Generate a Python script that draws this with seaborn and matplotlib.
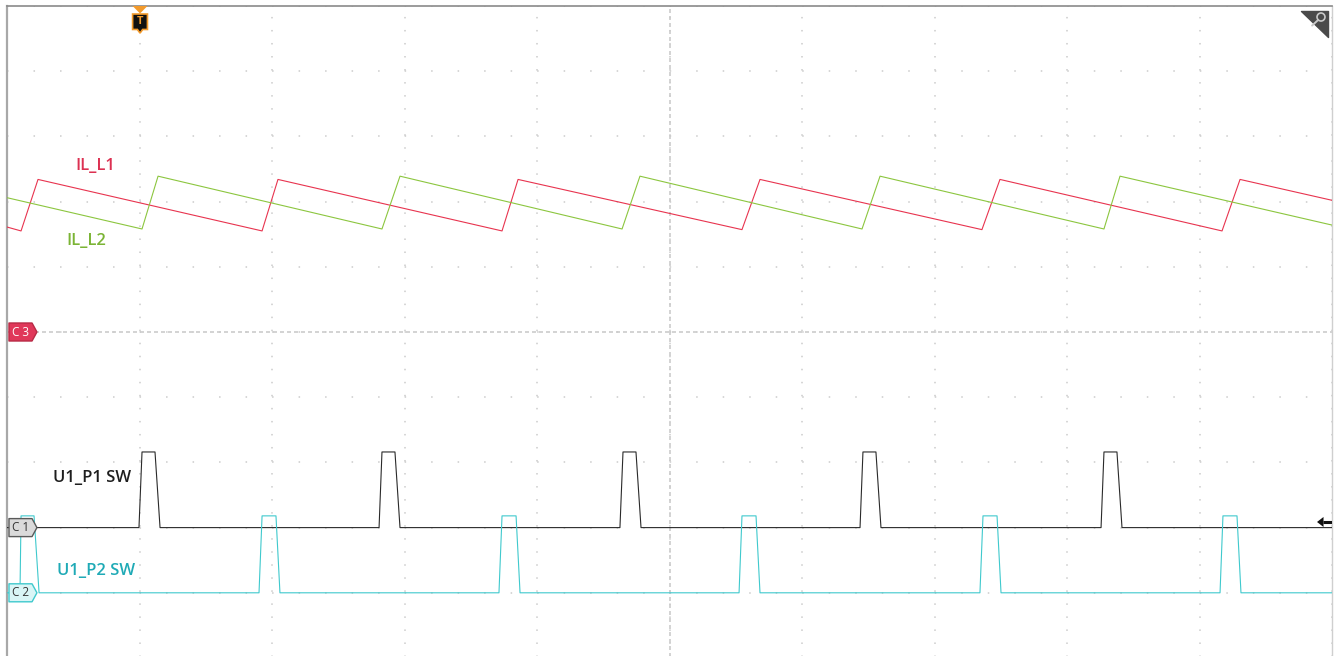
import matplotlib
matplotlib.use("Agg")
import matplotlib.pyplot as plt
import pandas as pd
import seaborn as sns
from matplotlib.patches import Polygon, Ellipse

# screen units: 10 horizontal divisions, vertical divisions -5..5 (centre = 0)
il_l1_t = [0.000, 0.106, 0.234, 1.925, 2.045, 3.736, 3.857, 5.547, 5.683,
           7.358, 7.494, 9.170, 9.306, 10.000]
il_l1_v = [1.61, 1.55, 2.34, 1.55, 2.34, 1.55, 2.34, 1.57, 2.34,
           1.57, 2.34, 1.55, 2.34, 2.02]

il_l2_t = [0.000, 1.019, 1.140, 2.830, 2.966, 4.642, 4.777, 6.453, 6.589,
           8.279, 8.400, 10.000]
il_l2_v = [2.06, 1.58, 2.39, 1.58, 2.39, 1.58, 2.39, 1.58, 2.39,
           1.58, 2.39, 1.64]

sw1_t = [0.000, 0.996, 1.019, 1.117, 1.155, 2.808, 2.830, 2.928, 2.966,
         4.626, 4.649, 4.747, 4.785, 6.438, 6.460, 6.558, 6.596,
         8.257, 8.279, 8.377, 8.415, 10.000]
sw1_v = [-3.00, -3.00, -1.84, -1.84, -3.00, -3.00, -1.84, -1.84, -3.00,
         -3.00, -1.84, -1.84, -3.00, -3.00, -1.84, -1.84, -3.00,
         -3.00, -1.84, -1.84, -3.00, -3.00]

sw2_t = [0.000, 0.098, 0.106, 0.204, 0.242, 1.902, 1.925, 2.030, 2.060,
         3.713, 3.736, 3.842, 3.872, 5.525, 5.547, 5.653, 5.683,
         7.343, 7.366, 7.472, 7.502, 9.155, 9.177, 9.283, 9.313, 10.000]
sw2_v = [-4.00, -4.00, -2.82, -2.82, -4.00, -4.00, -2.82, -2.82, -4.00,
         -4.00, -2.82, -2.82, -4.00, -4.00, -2.82, -2.82, -4.00,
         -4.00, -2.82, -2.82, -4.00, -4.00, -2.82, -2.82, -4.00, -4.00]

traces = [
    ("IL_L1", il_l1_t, il_l1_v, "#e8344f", "#dc3152", 0.67, 2.55),
    ("IL_L2", il_l2_t, il_l2_v, "#8cc63f", "#7bb435", 0.60, 1.40),
    ("U1_P1 SW", sw1_t, sw1_v, "#2a2a2a", "#1e1e1e", 0.64, -2.24),
    ("U1_P2 SW", sw2_t, sw2_v, "#3fc9cd", "#1faab6", 0.67, -3.67),
]

sns.set_theme(style="white")
plt.rcParams["font.family"] = ["Open Sans", "DejaVu Sans"]

fig = plt.figure(figsize=(13.36, 6.56), dpi=100)
ax = fig.add_axes([7 / 1336, -2 / 656, 1325 / 1336, 652 / 656])
ax.set_xlim(0, 10)
ax.set_ylim(-5, 5)
ax.set_xticks(range(11))
ax.set_yticks(range(-5, 6))
ax.tick_params(length=0, labelbottom=False, labelleft=False)

# dotted graticule
ax.grid(axis="x", color="#cccccc", linewidth=1.1, linestyle=(0, (1.0, 7.53)))
ax.grid(axis="y", color="#cccccc", linewidth=1.1, linestyle=(0, (1.0, 16.35)))
ax.axvline(5, color="#cccccc", linewidth=1.2, linestyle=(0, (2.4, 1.8)), zorder=1)
ax.axhline(0, color="#cccccc", linewidth=1.2, linestyle=(0, (2.4, 1.8)), zorder=1)

for spine in ax.spines.values():
    spine.set_visible(False)
ax.spines["left"].set_visible(True)
ax.spines["left"].set_color("#a8a8a8")
ax.spines["left"].set_linewidth(1.6)
ax.spines["top"].set_visible(True)
ax.spines["top"].set_color("#8a8a8a")
ax.spines["top"].set_linewidth(1.2)
ax.spines["right"].set_visible(True)
ax.spines["right"].set_color("#cfcfcf")
ax.spines["right"].set_linewidth(1.0)

for name, t, v, col, tcol, lx, ly in traces:
    df = pd.DataFrame({"t": t, "v": v})
    sns.lineplot(data=df, x="t", y="v", color=col, linewidth=0.8,
                 sort=False, estimator=None, ax=ax, zorder=3)
    ax.text(lx, ly, name, color=tcol, fontsize=12, fontweight="semibold",
            ha="center", va="center", zorder=4)

ax.set_xlabel("")
ax.set_ylabel("")


def tag(y, label, fill, edge, tc):
    pts = [(0.015, y - 0.138), (0.189, y - 0.138), (0.226, y),
           (0.189, y + 0.138), (0.015, y + 0.138)]
    ax.add_patch(Polygon(pts, closed=True, facecolor=fill, edgecolor=edge,
                         linewidth=1.0, zorder=6, joinstyle="round"))
    ax.text(0.105, y, label, color=tc, fontsize=8.5, ha="center",
            va="center", zorder=7)


tag(0.0, "C 3", "#e0385a", "#b82a45", "white")
tag(-3.0, "C 1", "#dadada", "#5a5a5a", "#333333")
tag(-4.0, "C 2", "#d9f5f6", "#3fc9cd", "#333333")

# trigger position marker
tx = 1.004
ax.add_patch(Polygon([(tx - 0.056, 5.0), (tx + 0.056, 5.0), (tx, 4.885)],
                     closed=True, facecolor="#f39a2b", edgecolor="none",
                     zorder=6, clip_on=False))
ax.add_patch(Polygon([(tx - 0.056, 4.877), (tx + 0.056, 4.877),
                      (tx + 0.056, 4.640), (tx + 0.02, 4.640), (tx, 4.585),
                      (tx - 0.02, 4.640), (tx - 0.056, 4.640)],
                     closed=True, facecolor="#111111", edgecolor="#f39a2b",
                     linewidth=1.2, zorder=6))
ax.text(tx, 4.76, "T", color="#f39a2b", fontsize=8, fontweight="bold",
        ha="center", va="center", zorder=7)

# zoom corner icon
ax.add_patch(Polygon([(9.766, 4.923), (9.970, 4.923), (9.970, 4.525)],
                     closed=True, facecolor="#4a4a4a", edgecolor="#4a4a4a",
                     linewidth=1.0, joinstyle="round", zorder=6))
ax.add_patch(Ellipse((9.917, 4.831), 0.06, 0.123, facecolor="none",
                     edgecolor="#c8c8c8", linewidth=1.2, zorder=7))
ax.plot([9.895, 9.850], [4.785, 4.700], color="#c8c8c8", linewidth=1.4,
        zorder=7)

# trigger level arrow on the right
ax.add_patch(Polygon([(9.887, -2.914), (9.936, -2.837), (9.936, -2.991)],
                     closed=True, facecolor="#111111", edgecolor="none",
                     zorder=6))
ax.plot([9.93, 10.0], [-2.914, -2.914], color="#111111", linewidth=2.2,
        zorder=6, solid_capstyle="butt")

fig.savefig("out.png", dpi=100)
